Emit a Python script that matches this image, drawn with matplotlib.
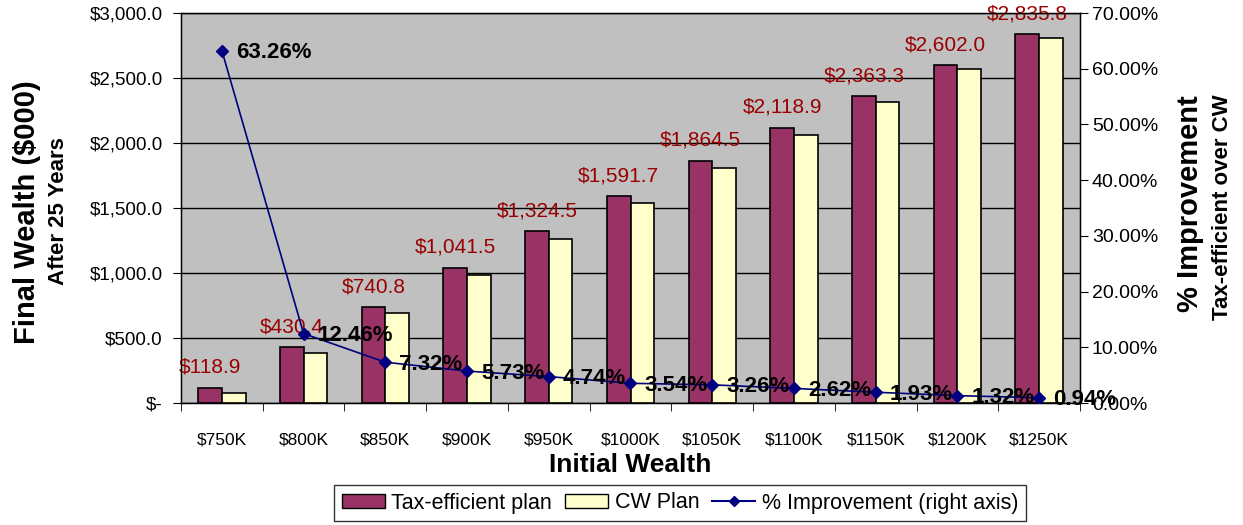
import matplotlib
matplotlib.use("Agg")
import matplotlib.pyplot as plt
from matplotlib.patches import Patch
from matplotlib.lines import Line2D
from matplotlib.ticker import FuncFormatter
import numpy as np

plt.rcParams['font.family'] = ['Liberation Sans', 'DejaVu Sans']

categories = ["$750K", "$800K", "$850K", "$900K", "$950K", "$1000K",
              "$1050K", "$1100K", "$1150K", "$1200K", "$1250K"]
tax_efficient = [118.9, 430.4, 740.8, 1041.5, 1324.5, 1591.7,
                 1864.5, 2118.9, 2363.3, 2602.0, 2835.8]
cw_plan = [75.0, 382.7, 690.3, 985.1, 1264.6, 1537.3,
           1805.6, 2064.8, 2318.5, 2568.1, 2809.4]
improvement = [63.26, 12.46, 7.32, 5.73, 4.74, 3.54,
               3.26, 2.62, 1.93, 1.32, 0.94]

purple = "#993366"
yellow = "#FFFFCC"
navy = "#000080"
red_text = "#990000"

fig = plt.figure(figsize=(12.43, 5.25), dpi=100)
ax = fig.add_axes([181/1243, 1-403/525, (1080-181)/1243, (403-13)/525])
ax.set_facecolor("#C0C0C0")

x = np.arange(len(categories))
w = 0.29
ax.bar(x - w/2, tax_efficient, w, color=purple, edgecolor="black", linewidth=1.2, zorder=3)
ax.bar(x + w/2, cw_plan, w, color=yellow, edgecolor="black", linewidth=1.2, zorder=3)

for xi, v in zip(x, tax_efficient):
    ax.annotate(f"${v:,.1f}", (xi - w/2, v), xytext=(0, 14.5), textcoords="offset points",
                ha="center", va="center", color=red_text, fontsize=15, zorder=4)

ax.set_xlim(-0.5, len(categories) - 0.5)
ax.set_ylim(0, 3000)
ax.set_yticks(np.arange(0, 3001, 500))
ax.yaxis.set_major_formatter(FuncFormatter(lambda v, p: "$-" if v == 0 else f"${v:,.1f}"))
ax.grid(axis="y", color="black", linewidth=1, zorder=1)
ax.set_axisbelow(True)
ax.set_xticks(x)
ax.set_xticklabels(categories, fontsize=12.5)
ax.set_xticks(np.arange(-0.5, len(categories), 1), minor=True)
ax.tick_params(axis="x", which="major", length=0, pad=21)
ax.tick_params(axis="x", which="minor", length=6, direction="out")
ax.tick_params(axis="y", labelsize=13.5, length=6, direction="out", pad=7)
for s in ax.spines.values():
    s.set_color("black")
    s.set_linewidth(1)

ax.set_xlabel("Initial Wealth", fontsize=19, fontweight="bold", labelpad=4)

ax2 = ax.twinx()
ax2.plot(x, [v/100 for v in improvement], color=navy, linewidth=1.2, marker="D",
         markersize=6, zorder=5)
for xi, v in zip(x, improvement):
    ax2.annotate(f"{v:.2f}%", (xi, v/100), xytext=(10, -1.5), textcoords="offset points",
                 ha="left", va="center", fontsize=16, fontweight="bold", color="black", zorder=6)
ax2.set_ylim(0, 0.70)
ax2.set_yticks(np.arange(0, 0.701, 0.10))
ax2.yaxis.set_major_formatter(FuncFormatter(lambda v, p: f"{v*100:.2f}%"))
ax2.tick_params(axis="y", labelsize=14, length=6, direction="out", pad=2.5)
for s in ax2.spines.values():
    s.set_color("black")

fig.text(27/1243, 1-212/525, "Final Wealth ($000)", rotation=90, ha="center", va="center",
         fontsize=21, fontweight="bold")
fig.text(58/1243, 1-211/525, "After 25 Years", rotation=90, ha="center", va="center",
         fontsize=16, fontweight="bold")
fig.text(1190/1243, 1-204/525, "% Improvement", rotation=90, ha="center", va="center",
         fontsize=21, fontweight="bold")
fig.text(1222/1243, 1-207/525, "Tax-efficient over CW", rotation=90, ha="center", va="center",
         fontsize=16, fontweight="bold")

handles = [Patch(facecolor=purple, edgecolor="black", label="Tax-efficient plan"),
           Patch(facecolor=yellow, edgecolor="black", label="CW Plan"),
           Line2D([0], [0], color=navy, marker="D", markersize=5, label="% Improvement (right axis)")]
leg = fig.legend(handles=handles, loc="center", bbox_to_anchor=(680/1243, 1-503/525), ncol=3,
                 fontsize=15.5, frameon=True, fancybox=False, edgecolor="black",
                 handlelength=2.0, handleheight=0.6, handletextpad=0.3, columnspacing=0.6,
                 borderpad=0.35)
leg.get_frame().set_linewidth(1)

fig.savefig("out.png", dpi=100)
